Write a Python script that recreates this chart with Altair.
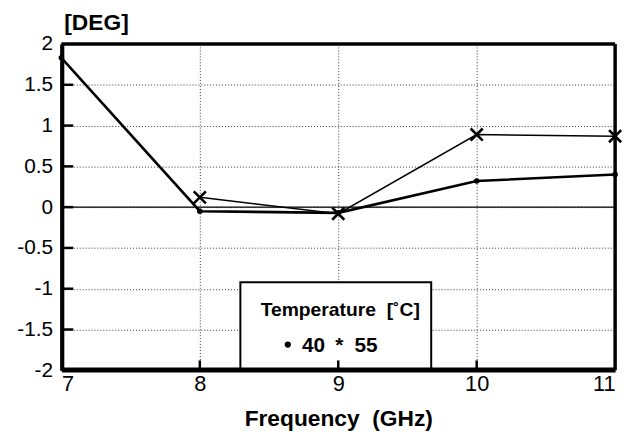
import altair as alt
import pandas as pd

# ---- data ----
freq_40 = [7, 8, 9, 10, 11]
deg_40 = [1.83, -0.05, -0.07, 0.32, 0.40]
freq_55 = [8, 9, 10, 11]
deg_55 = [0.12, -0.08, 0.89, 0.87]
series = ["40", "55"]
x_ticks = [7, 8, 9, 10, 11]
y_ticks = [-2, -1.5, -1, -0.5, 0, 0.5, 1, 1.5, 2]
inner_x_ticks = [8, 9, 10]
inner_y_ticks = [-1.5, -1, -0.5, 0, 0.5, 1, 1.5]
NB = "\u00a0"
legend_title = "Temperature" + NB + NB + "[˚C]"
x_title = "Frequency" + NB + NB + "(GHz)"
y_title = "[DEG]"

FONT = "Liberation Sans"

df40 = pd.DataFrame({"freq": freq_40, "deg": deg_40, "temp": series[0]})
df55 = pd.DataFrame({"freq": freq_55, "deg": deg_55, "temp": series[1]})
zero_df = pd.DataFrame({"deg": [0]})
ytick_df = pd.DataFrame({"deg": inner_y_ticks, "freq": x_ticks[0]})
xtick_df = pd.DataFrame({"freq": inner_x_ticks, "deg": y_ticks[0]})
frame_df = pd.DataFrame({"x0": [x_ticks[0]], "x1": [x_ticks[-1]], "y0": [y_ticks[0]], "y1": [y_ticks[-1]]})
one = pd.DataFrame({"k": [0]})

xscale = alt.Scale(domain=[x_ticks[0], x_ticks[-1]], nice=False, zero=False)
yscale = alt.Scale(domain=[y_ticks[0], y_ticks[-1]], nice=False, zero=False)

FW = 3.5
x_axis = alt.Axis(
    values=x_ticks, title=x_title, grid=True, gridDash=[1, 2], gridColor="#333",
    gridWidth=1, ticks=False, domain=True, domainColor="black", domainWidth=FW,
    labelFont=FONT, labelFontSize=22,
    labelColor="black", labelPadding=3, labelBaseline="top",
    labelExpr="toString(datum.value)",
    titleFont=FONT, titleFontSize=23, titleFontWeight="bold", titleColor="black",
    titleY=56, titleBaseline="alphabetic",
)
y_axis = alt.Axis(
    values=y_ticks, title=y_title, grid=True, gridDash=[1, 2], gridColor="#333",
    gridWidth=1, ticks=False, domain=True, domainColor="black", domainWidth=FW,
    labelFont=FONT, labelFontSize=21,
    labelColor="black", labelPadding=9, labelExpr="toString(datum.value)",
    titleFont=FONT, titleFontSize=23, titleFontWeight="bold", titleColor="black",
    titleAngle=0, titleX=35, titleY=-15, titleAlign="center", titleBaseline="alphabetic",
)

X = alt.X("freq:Q", scale=xscale, axis=x_axis)
Y = alt.Y("deg:Q", scale=yscale, axis=y_axis)

zero_line = alt.Chart(zero_df).mark_rule(color="black", strokeWidth=1.2).encode(y=Y)

line40 = alt.Chart(df40).mark_line(color="black", strokeWidth=2.6).encode(x=X, y=Y)
pts40 = alt.Chart(df40).mark_point(shape="circle", filled=True, color="black", size=32, opacity=1).encode(x=X, y=Y)

XSHAPE = "M-1,-1L1,1M1,-1L-1,1"
line55 = alt.Chart(df55).mark_line(color="black", strokeWidth=1.5).encode(x=X, y=Y)
pts55 = alt.Chart(df55).mark_point(shape=XSHAPE, filled=False, color="black", size=150, strokeWidth=2.6, opacity=1).encode(x=X, y=Y)

# inward pointing ticks
ytick_marks = alt.Chart(ytick_df).mark_tick(
    orient="horizontal", color="black", thickness=2.5, size=12, xOffset=6, opacity=1
).encode(y=Y, x=X)
xtick_marks = alt.Chart(xtick_df).mark_tick(
    orient="vertical", color="black", thickness=2.5, size=10, yOffset=-5, opacity=1
).encode(x=X, y=Y)

# frame edges
frame_right = alt.Chart(frame_df).mark_rule(color="black", strokeWidth=FW).encode(
    x=alt.X("x1:Q", scale=xscale), y=alt.Y("y0:Q", scale=yscale), y2="y1:Q")
frame_top = alt.Chart(frame_df).mark_rule(color="black", strokeWidth=FW).encode(
    y=alt.Y("y1:Q", scale=yscale), x=alt.X("x0:Q", scale=xscale), x2="x1:Q")
frame_left = alt.Chart(frame_df).mark_rule(color="black", strokeWidth=FW, xOffset=1.2).encode(
    x=alt.X("x0:Q", scale=xscale), y=alt.Y("y0:Q", scale=yscale), y2="y1:Q")
frame_bottom = alt.Chart(frame_df).mark_rule(color="black", strokeWidth=FW, yOffset=-1.2).encode(
    y=alt.Y("y0:Q", scale=yscale), x=alt.X("x0:Q", scale=xscale), x2="x1:Q")

legend_box = alt.Chart(one).mark_rect(fill="white", stroke="black", strokeWidth=2).encode(
    x=alt.value(181), x2=alt.value(374), y=alt.value(241), y2=alt.value(330)
)
legend_head = alt.Chart(pd.DataFrame({"t": [legend_title]})).mark_text(
    font=FONT, fontSize=19.5, fontWeight="bold", color="black", align="center", baseline="alphabetic"
).encode(text="t:N", x=alt.value(282), y=alt.value(275))
legend_dot = alt.Chart(one).mark_point(shape="circle", filled=True, color="black", size=40, opacity=1).encode(
    x=alt.value(229), y=alt.value(304)
)
legend_40 = alt.Chart(pd.DataFrame({"t": [series[0]]})).mark_text(
    font=FONT, fontSize=21, fontWeight="bold", color="black", align="center", baseline="alphabetic"
).encode(text="t:N", x=alt.value(255), y=alt.value(311))
legend_star = alt.Chart(pd.DataFrame({"t": ["*"]})).mark_text(
    font=FONT, fontSize=21, fontWeight="bold", color="black", align="center", baseline="alphabetic"
).encode(text="t:N", x=alt.value(281), y=alt.value(311))
legend_55 = alt.Chart(pd.DataFrame({"t": [series[1]]})).mark_text(
    font=FONT, fontSize=21, fontWeight="bold", color="black", align="center", baseline="alphabetic"
).encode(text="t:N", x=alt.value(308), y=alt.value(311))

chart = alt.layer(
    zero_line, line40, line55, pts40, pts55,
    legend_box, frame_right, frame_top, frame_left, frame_bottom,
    legend_head, legend_dot, legend_40, legend_star, legend_55,
    ytick_marks, xtick_marks,
).properties(
    width=560, height=330,
    padding={"left": 54, "top": 34, "right": 10, "bottom": 60},
    autosize=alt.AutoSizeParams(type="none"),
    background="white",
).configure_view(
    stroke=None
)

chart.save("out.html", embed_options={"renderer": "svg", "actions": False})
